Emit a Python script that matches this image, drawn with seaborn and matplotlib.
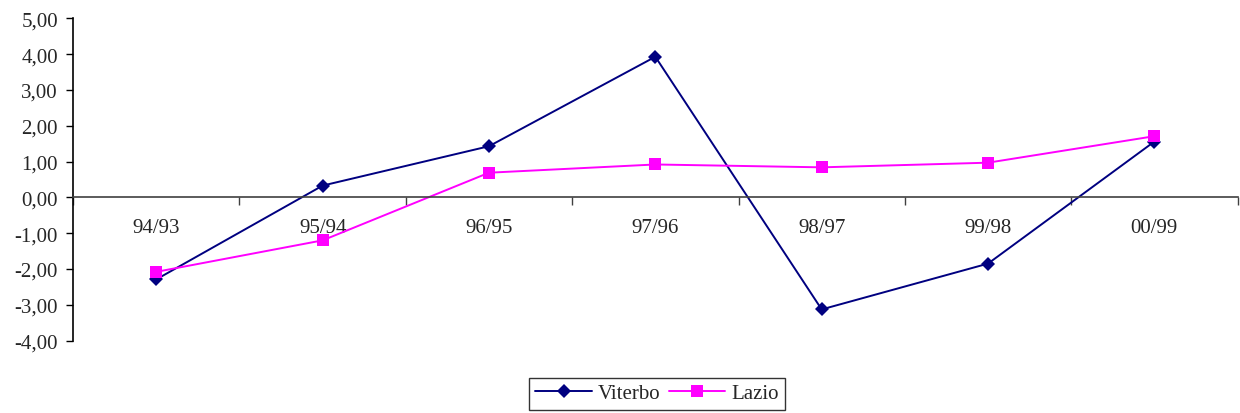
import matplotlib
matplotlib.use("Agg")
import matplotlib.pyplot as plt
import seaborn as sns
import pandas as pd
from matplotlib.lines import Line2D

# Year-on-year changes by period
periods = ["94/93", "95/94", "96/95", "97/96", "98/97", "99/98", "00/99"]
viterbo = [-2.29, 0.33, 1.43, 3.93, -3.13, -1.85, 1.56]
lazio = [-2.08, -1.20, 0.69, 0.92, 0.84, 0.97, 1.71]
y_ticks = [-4, -3, -2, -1, 0, 1, 2, 3, 4, 5]
y_tick_labels = ["-4,00", "-3,00", "-2,00", "-1,00", "0,00",
                 "1,00", "2,00", "3,00", "4,00", "5,00"]

sns.set_style("white")
plt.rcParams["font.family"] = ["Liberation Serif", "DejaVu Serif"]
plt.rcParams["font.size"] = 15

df = pd.DataFrame({
    "x": list(range(len(periods))) * 2,
    "value": viterbo + lazio,
    "serie": ["Viterbo"] * len(periods) + ["Lazio"] * len(periods),
})

fig = plt.figure(figsize=(12.4, 4.14), dpi=100)
ax = fig.add_axes([0.059, 0.175, 0.939, 0.778])

sns.lineplot(
    data=df, x="x", y="value", hue="serie", style="serie",
    palette={"Viterbo": "#000080", "Lazio": "#FF00FF"},
    markers={"Viterbo": "D", "Lazio": "s"},
    dashes=False, markersize=7, linewidth=1.4,
    markeredgewidth=0, ax=ax, legend=False,
)
# enlarge the square markers a bit
for line in ax.lines:
    if line.get_marker() == "s":
        line.set_markersize(9)

ax.set_xlim(-0.5, len(periods) - 0.5)
ax.set_ylim(-4, 5)
ax.set_yticks(y_ticks)
ax.set_yticklabels(y_tick_labels)
ax.set_xlabel("")
ax.set_ylabel("")

# category axis crossing at zero
for s in ("top", "right"):
    ax.spines[s].set_visible(False)
ax.spines["bottom"].set_position(("data", 0))
ax.spines["bottom"].set_color("#404040")
ax.spines["bottom"].set_linewidth(1.2)
ax.spines["left"].set_color("black")
ax.spines["left"].set_linewidth(1.2)

boundaries = [i - 0.5 for i in range(len(periods) + 1)]
ax.set_xticks(boundaries)
ax.set_xticklabels([""] * len(boundaries))
ax.set_xticks(range(len(periods)), minor=True)
ax.set_xticklabels(periods, minor=True)
ax.tick_params(axis="x", which="major", bottom=True, direction="out",
               length=6, color="#404040", width=1)
ax.tick_params(axis="x", which="minor", bottom=True, length=0, pad=15,
               labelsize=15)
ax.tick_params(axis="y", left=True, direction="out", length=5, width=1,
               color="black", pad=6, labelsize=15)

handles = [
    Line2D([], [], color="#000080", marker="D", markersize=7,
           markeredgewidth=0, linewidth=1.4),
    Line2D([], [], color="#FF00FF", marker="s", markersize=9,
           markeredgewidth=0, linewidth=1.4),
]
leg = fig.legend(handles, ["Viterbo", "Lazio"], loc="center",
                 bbox_to_anchor=(0.53, 0.047), ncol=2, frameon=True,
                 fancybox=False, edgecolor="black", handlelength=2.7,
                 handletextpad=0.3, columnspacing=0.4, borderpad=0.3,
                 borderaxespad=0.2, fontsize=15)
leg.get_frame().set_linewidth(1.0)

fig.savefig("out.png", dpi=100)
